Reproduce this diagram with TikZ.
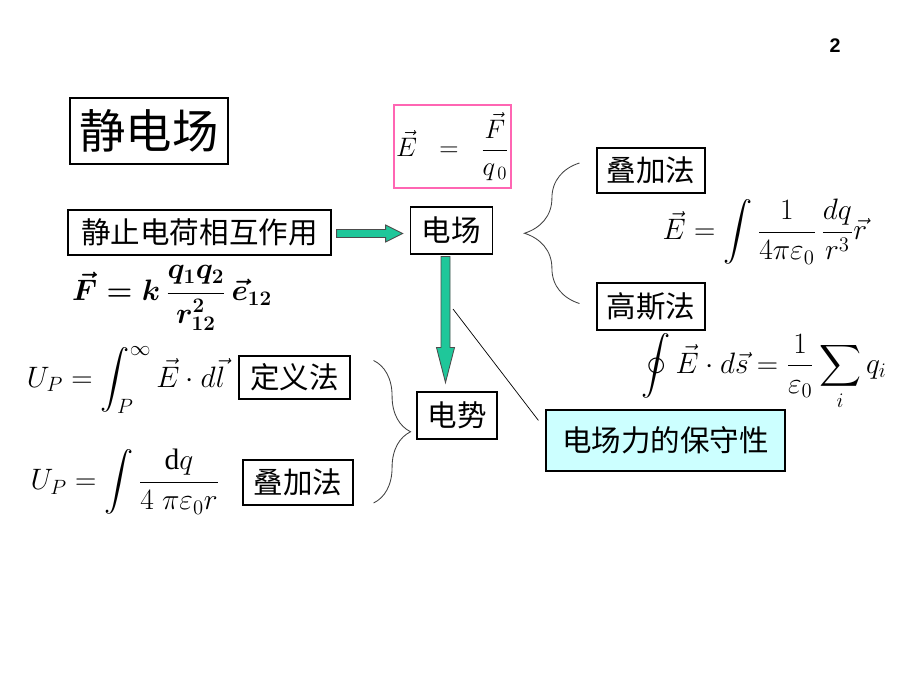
\RequirePackage{fix-cm}
\documentclass[tikz,border=0pt]{standalone}
\usepackage{amsmath}
\usepackage{fontspec}
\setmainfont{Liberation Serif}
\newfontfamily\cjk{Noto Sans CJK SC}
\newfontfamily\numfont{Liberation Sans}
\usetikzlibrary{positioning}
\usetikzlibrary{calc}
\usetikzlibrary{decorations.pathreplacing}
\definecolor{arrowgreen}{RGB}{31,199,154}
\definecolor{framepink}{RGB}{255,102,179}
\definecolor{calloutcyan}{RGB}{204,255,255}
\tikzset{
    box/.style={draw=black, line width=0.8pt, fill=white, inner sep=0pt,
        font=\cjk\fontsize{21}{25}\selectfont},
    eqn/.style={inner sep=0pt, font=\fontsize{21}{25}\selectfont},
    fatarrow/.style={draw=black!70, line width=0.6pt, fill=arrowgreen},
    bigbrace/.style={draw=black!75, line width=0.6pt, decorate,
        decoration={brace, amplitude=#1}},
    pointer/.style={draw=black, line width=0.5pt},
}

\begin{document}
\begin{tikzpicture}[x=0.025cm, y=-0.025cm]
	\useasboundingbox (0,0) rectangle (920,690);
	\node[font=\numfont\bfseries\fontsize{14}{16}\selectfont] (page) at (835,46) {2};
	% boxes
	\node[box, minimum width=3.95cm, minimum height=1.65cm,
	      font=\cjk\fontsize{33}{38}\selectfont] (title) at (149,131) {静电场};
	\node[box, draw=framepink, minimum width=2.925cm, minimum height=2.075cm,
	      font=\fontsize{19}{23}\selectfont] (ratio) at (452.5,146.5) {$\vec{E}\;\;=\;\;\dfrac{\vec{F}}{q_{\,0}}$};
	\node[box, minimum width=6.575cm, minimum height=1.125cm] (cause) at (199.5,232.5) {静止电荷相互作用};
	\node[box, minimum width=2.05cm, minimum height=1.175cm] (field) at (451.5,230.5) {电场};
	\node[box, minimum width=2.7cm, minimum height=1.125cm] (superA) at (651,170.5) {叠加法};
	\node[box, minimum width=2.7cm, minimum height=1.175cm] (gauss) at (651,306.5) {高斯法};
	\node[box, minimum width=2.775cm, minimum height=1.075cm] (defn) at (294.5,377.5) {定义法};
	\node[box, minimum width=2.75cm, minimum height=1.125cm] (superB) at (298,482.5) {叠加法};
	\node[box, minimum width=2.0cm, minimum height=1.175cm] (potential) at (457,415.5) {电势};
	\node[box, fill=calloutcyan, minimum width=5.975cm, minimum height=1.525cm,
	      font=\cjk\fontsize{21}{25}\selectfont] (conserv) at (665.5,440.5) {电场力的保守性};
	% formulas
	\node[eqn, font=\boldmath\fontsize{21}{25}\selectfont] (coulomb) at (172,298) {$\vec{F}=k\,\dfrac{q_1q_2}{r_{12}^{2}}\,\vec{e}_{12}$};
	\node[eqn] (fieldint) at (765,232) {$\vec{E}=\displaystyle\int\frac{1}{4\pi\varepsilon_0}\,\frac{dq}{r^{3}}\vec{r}$};
	\node[eqn] (gaussint) at (764,372) {$\displaystyle\oint\vec{E}\cdot d\vec{s}=\frac{1}{\varepsilon_0}\sum_{i}q_i$};
	\node[eqn] (upint) at (126,380) {$U_{P}=\displaystyle\int_{P}^{\infty}\vec{E}\cdot d\vec{l}$};
	\node[eqn] (upsum) at (125,482) {$U_{P}=\displaystyle\int\frac{\mathrm{d}q}{4\;\pi\varepsilon_0 r}$};
	% arrows
	\draw[fatarrow] ($(cause.east)+(5,-3)$) -- ++(49,0) -- ++(0,-4.5) -- ++(17,8.5)
	      -- ++(-17,8.5) -- ++(0,-4.5) -- ++(-49,0) -- cycle;
	\draw[fatarrow] ($(field.south)+(-10.5,2)$) -- ++(0,91) -- ++(-4.5,0) -- ++(9,35)
	      -- ++(9,-35) -- ++(-4.5,0) -- ++(0,-91) -- cycle;
	% braces
	\draw[bigbrace=1.375cm] ($(gauss.west)+(-17,-3)$) -- ($(superA.west)+(-17,-7.5)$);
	\draw[bigbrace=0.925cm] ($(defn.east)+(23,-17)$) -- ($(superB.east)+(20,20.5)$);
	% pointer
	\coordinate (armpoint) at (453,309);
	\draw[pointer] (armpoint) -- ($(conserv.north west)+(-7,11)$);
\end{tikzpicture}
\end{document}
